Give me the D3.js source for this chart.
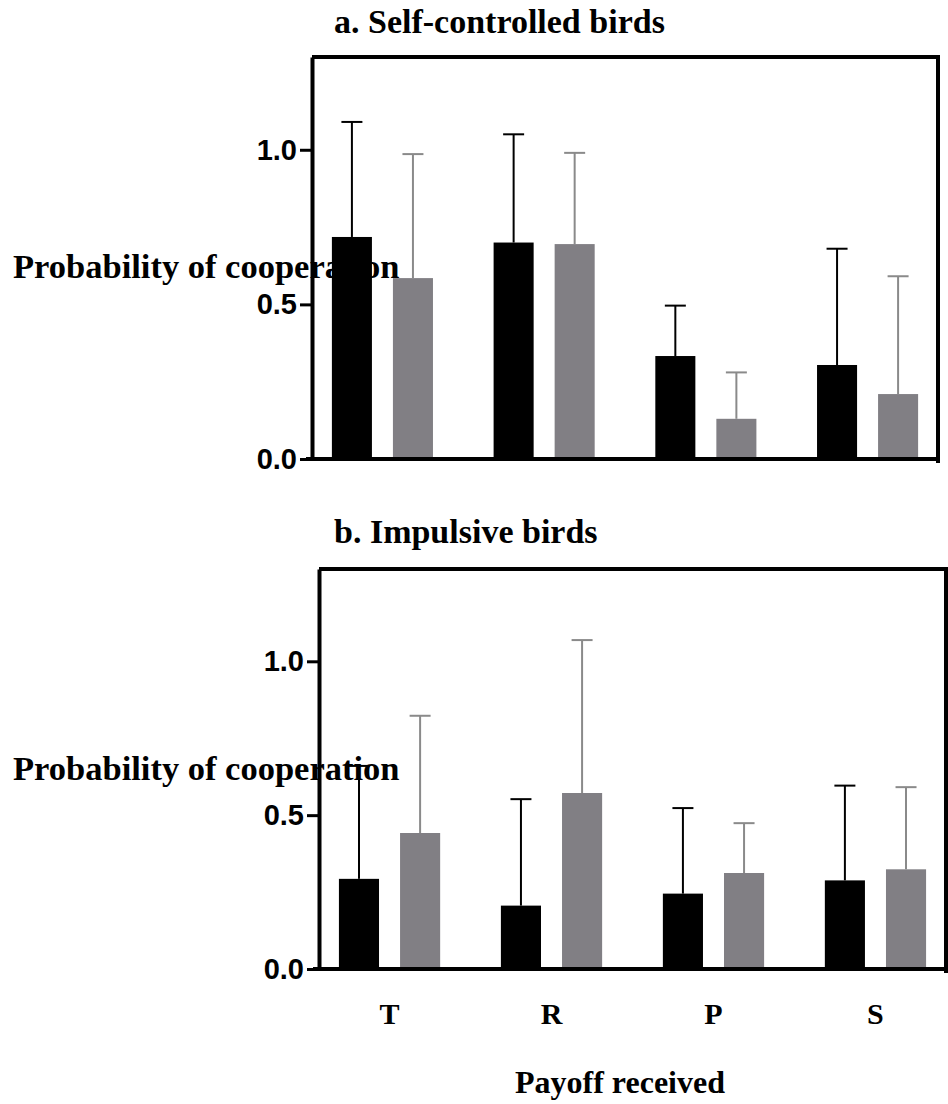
<!DOCTYPE html>
<html>
<head>
<meta charset="utf-8">
<script src="https://cdn.jsdelivr.net/npm/d3@7"></script>
<style>
body { margin: 0; background: #fff; }
.serif { font-family: "Liberation Serif", "Times New Roman", serif; font-weight: bold; fill: #000; }
.tick text { font-family: "Liberation Sans", Arial, sans-serif; font-weight: bold; font-size: 29px; }
</style>
</head>
<body>
<div id="chart"></div>
<script>
// Data
var payoffs = ["T", "R", "P", "S"];
var series = ["black", "gray"];
var yTicks = [0, 0.5, 1.0];

// a. Self-controlled birds (mean and upper error)
var selfBlackMean = [0.718, 0.700, 0.333, 0.304];
var selfBlackErr = [0.372, 0.350, 0.163, 0.376];
var selfGrayMean = [0.585, 0.695, 0.130, 0.210];
var selfGrayErr = [0.401, 0.295, 0.150, 0.381];

// b. Impulsive birds
var impBlackMean = [0.293, 0.206, 0.245, 0.288];
var impBlackErr = [0.367, 0.346, 0.278, 0.308];
var impGrayMean = [0.442, 0.572, 0.312, 0.324];
var impGrayErr = [0.381, 0.497, 0.162, 0.267];

var colors = { black: "#000000", gray: "#817f84" };
var errColors = { black: "#000000", gray: "#8a8a8a" };

var svg = d3.select("#chart")
    .append("svg")
    .attr("width", 948)
    .attr("height", 1104);

function makeRows(bMean, bErr, gMean, gErr) {
    var rows = [];
    payoffs.forEach(function (p, i) {
        rows.push({ payoff: p, series: "black", mean: bMean[i], err: bErr[i] });
        rows.push({ payoff: p, series: "gray", mean: gMean[i], err: gErr[i] });
    });
    return rows;
}

function drawPanel(opt) {
    var x0 = d3.scaleBand()
        .domain(payoffs)
        .range([opt.left, opt.right])
        .paddingInner(0.375)
        .paddingOuter(0.123);

    var x1 = d3.scaleBand()
        .domain(series)
        .range([0, x0.bandwidth()])
        .paddingInner(0.344);

    var y = d3.scaleLinear()
        .domain([0, 1.3])
        .range([opt.bottom, opt.top]);

    var g = svg.append("g");

    // frame (top, right)
    g.append("path")
        .attr("d", `M${opt.left},${y(1.3)}H${opt.right}V${y(0) + 4}`)
        .attr("fill", "none")
        .attr("stroke", "#000")
        .attr("stroke-width", 4);

    // bars
    g.selectAll("rect.bar")
        .data(opt.rows)
        .enter()
        .append("rect")
        .attr("class", "bar")
        .attr("x", d => x0(d.payoff) + x1(d.series))
        .attr("y", d => y(d.mean))
        .attr("width", x1.bandwidth())
        .attr("height", d => y(0) - y(d.mean))
        .attr("fill", d => colors[d.series]);

    // error bars (upper only)
    var err = g.selectAll("g.err")
        .data(opt.rows)
        .enter()
        .append("g")
        .attr("class", "err")
        .attr("stroke", d => errColors[d.series])
        .attr("stroke-width", 2);

    err.append("line")
        .attr("x1", d => x0(d.payoff) + x1(d.series) + x1.bandwidth() / 2)
        .attr("x2", d => x0(d.payoff) + x1(d.series) + x1.bandwidth() / 2)
        .attr("y1", d => y(d.mean))
        .attr("y2", d => y(d.mean + d.err));

    err.append("line")
        .attr("x1", d => x0(d.payoff) + x1(d.series) + x1.bandwidth() / 2 - 10.5)
        .attr("x2", d => x0(d.payoff) + x1(d.series) + x1.bandwidth() / 2 + 10.5)
        .attr("y1", d => y(d.mean + d.err))
        .attr("y2", d => y(d.mean + d.err));

    // y axis
    var axisY = g.append("g")
        .attr("transform", `translate(${opt.left}, 0)`)
        .call(d3.axisLeft(y).tickValues(yTicks).tickFormat(d3.format(".1f")).tickSize(12).tickSizeOuter(0).tickPadding(3));
    axisY.select(".domain").attr("stroke-width", 4);
    axisY.selectAll(".tick line").attr("stroke-width", 3);

    // x axis
    var axisX = g.append("g")
        .attr("transform", `translate(0, ${y(0)})`)
        .call(d3.axisBottom(x0).tickSize(0).tickSizeOuter(0).tickPadding(34).tickFormat(opt.xLabels ? null : ""));
    axisX.select(".domain")
        .attr("d", `M${opt.left - 6},0H${opt.right + 2}`)
        .attr("stroke-width", 4);
    axisX.selectAll(".tick text")
        .attr("class", "serif")
        .style("font-size", "30px")
        .style("font-family", "'Liberation Serif', serif");

    // title
    svg.append("text")
        .attr("class", "serif")
        .attr("x", 334)
        .attr("y", opt.titleY)
        .style("font-size", "34px")
        .text(opt.title);

    // y label (horizontal, drawn over the bars)
    svg.append("text")
        .attr("class", "serif")
        .attr("x", 13)
        .attr("y", opt.yLabelY)
        .style("font-size", "34.5px")
        .text("Probability of cooperation");
}

drawPanel({
    left: 312, right: 938, top: 57, bottom: 459,
    rows: makeRows(selfBlackMean, selfBlackErr, selfGrayMean, selfGrayErr),
    title: "a. Self-controlled birds", titleY: 33, yLabelY: 278, xLabels: false
});

drawPanel({
    left: 319, right: 946, top: 569, bottom: 969,
    rows: makeRows(impBlackMean, impBlackErr, impGrayMean, impGrayErr),
    title: "b. Impulsive birds", titleY: 543, yLabelY: 780, xLabels: true
});

// x axis title
svg.append("text")
    .attr("class", "serif")
    .attr("x", 620)
    .attr("y", 1093)
    .attr("text-anchor", "middle")
    .style("font-size", "32px")
    .text("Payoff received");
</script>
</body>
</html>
